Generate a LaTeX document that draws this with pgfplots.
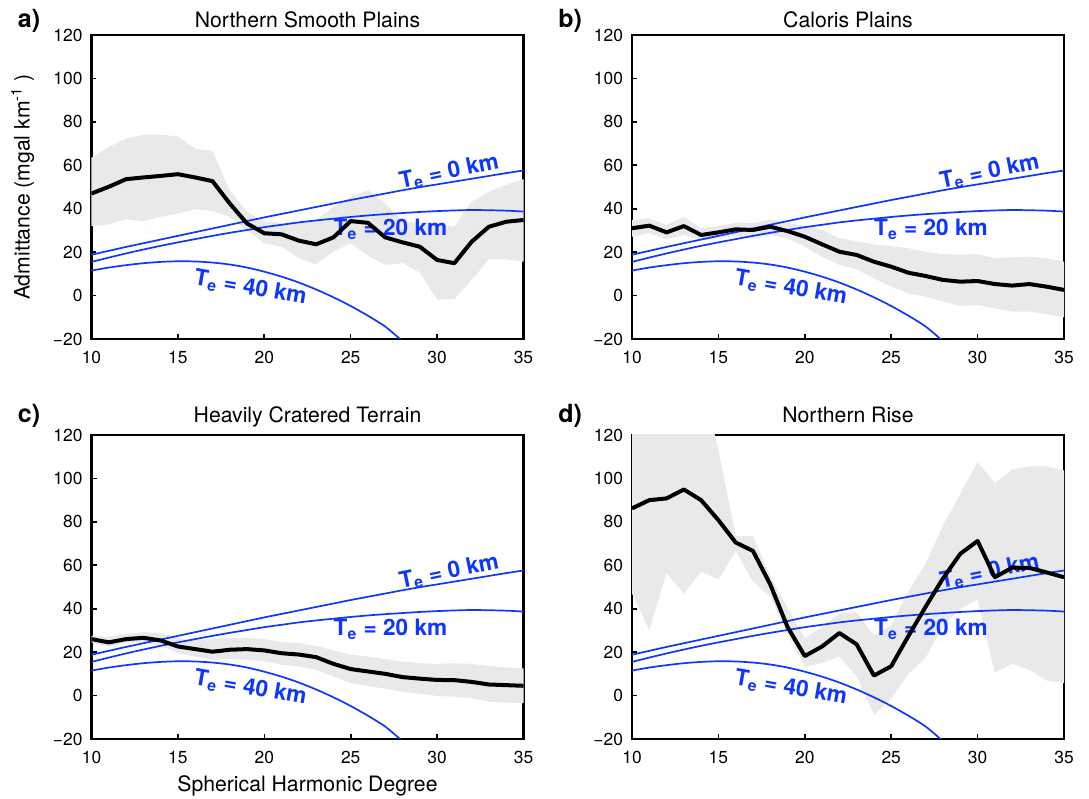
\documentclass[border=0pt]{standalone}
\usepackage{fontspec}
\setmainfont{TeX Gyre Heros}
\usepackage{pgfplots}
\pgfplotsset{compat=1.18}
\usepackage{pgfplotstable}
\definecolor{teblue}{RGB}{15,55,250}
\definecolor{bandgray}{RGB}{233,233,233}

% mean curves
\pgfplotstableread{
x m
10 47.0
11 50.1
12 53.6
13 54.4
14 55.1
15 55.9
16 54.4
17 52.7
18 42.4
19 33.2
20 28.7
21 28.2
22 25.3
23 23.6
24 26.8
25 34.3
26 33.5
27 26.8
28 24.5
29 22.5
30 16.4
31 14.9
32 24.8
33 31.7
34 34.0
35 34.8
}\tabA
\pgfplotstableread{
x m
10 31.0
11 32.2
12 29.1
13 32.0
14 27.9
15 29.1
16 30.5
17 30.2
18 31.7
19 29.7
20 27.1
21 23.6
22 20.2
23 18.7
24 15.6
25 13.3
26 10.5
27 9.0
28 7.2
29 6.4
30 6.7
31 5.3
32 4.6
33 5.3
34 4.1
35 2.6
}\tabB
\pgfplotstableread{
x m
10 26.0
11 24.5
12 26.0
13 26.6
14 25.4
15 22.6
16 21.4
17 20.2
18 21.1
19 21.4
20 20.8
21 19.5
22 18.9
23 17.7
24 14.6
25 12.2
26 11.1
27 10.0
28 8.5
29 7.8
30 7.2
31 7.1
32 6.3
33 5.1
34 4.8
35 4.5
}\tabC
\pgfplotstableread{
x m
10 86.2
11 90.0
12 90.8
13 94.9
14 90.0
15 80.8
16 70.5
17 66.6
18 51.2
19 31.6
20 18.2
21 22.6
22 28.8
23 23.6
24 9.2
25 13.5
26 27.5
27 41.0
28 54.0
29 65.3
30 71.2
31 54.5
32 58.9
33 58.8
34 56.7
35 54.5
}\tabD

% uncertainty bands: upper edge 10->35, then lower edge 35->10
\pgfplotstableread{
x y
10 63.5
11 68.4
12 72.3
13 74.1
14 74.1
15 73.3
16 67.7
17 66.6
18 48.5
19 38.6
20 34.0
21 33.6
22 33.6
23 34.8
24 40.9
25 45.5
26 48.5
27 42.4
28 34.0
29 33.5
30 32.9
31 31.7
32 43.2
33 47.8
34 51.1
35 53.6
35 15.6
34 16.7
33 16.7
32 7.2
31 -1.6
30 -1.9
29 10.6
28 14.9
27 14.1
26 18.4
25 24.1
24 20.2
23 14.4
22 17.2
21 22.5
20 24.1
19 30.2
18 36.3
17 38.9
16 39.8
15 37.8
14 36.3
13 34.3
12 35.2
11 32.8
10 32.0
}\bandA
\pgfplotstableread{
x y
10 34.8
11 35.6
12 32.5
13 36.3
14 31.0
15 32.0
16 33.6
17 33.3
18 35.1
19 33.6
20 32.0
21 30.2
22 26.4
23 25.1
24 23.6
25 22.8
26 21.8
27 20.2
28 19.1
29 18.7
30 19.1
31 17.2
32 17.6
33 17.9
34 17.2
35 15.6
35 -10.0
34 -8.5
33 -7.4
32 -7.4
31 -5.9
30 -4.3
29 -4.8
28 -2.8
27 -0.5
26 1.0
25 4.1
24 7.9
23 12.1
22 14.1
21 17.9
20 22.5
19 26.4
18 27.9
17 26.4
16 27.4
15 26.4
14 25.3
13 27.9
12 25.9
11 28.7
10 27.1
}\bandB
\pgfplotstableread{
x y
10 27.5
11 26.9
12 28.5
13 29.2
14 28.8
15 26.5
16 25.4
17 26.2
18 26.5
19 26.5
20 26.0
21 24.6
22 24.2
23 22.9
24 20.8
25 18.8
26 18.0
27 16.8
28 15.7
29 14.9
30 14.6
31 14.9
32 14.6
33 13.7
34 12.9
35 12.5
35 -3.5
34 -3.2
33 -2.8
32 -1.2
31 -0.5
30 -0.2
29 0.8
28 1.8
27 3.1
26 4.5
25 5.7
24 8.8
23 11.8
22 13.4
21 14.2
20 15.7
19 16.5
18 16.8
17 16.5
16 18.0
15 19.5
14 22.9
13 24.5
12 24.2
11 22.6
10 24.5
}\bandC
\pgfplotstableread{
x y
10 148
11 148
12 148
13 148
14 148
15 113
16 73.6
17 73.6
18 55.0
19 40.3
20 26.5
21 31.5
22 37.7
23 38.5
24 27.5
25 32.5
26 48.0
27 61.0
28 78.5
29 93.0
30 107.5
31 98.0
32 104.0
33 105.5
34 105.5
35 103.7
35 5.7
34 6.9
33 11.8
32 14.6
31 10.5
30 44.0
29 40.0
28 32.0
27 17.5
26 10.0
25 -1.5
24 -9.0
23 8.8
22 18.0
21 14.9
20 13.3
19 28.5
18 45.5
17 52.5
16 66.5
15 53.5
14 57.0
13 47.0
12 56.3
11 30.0
10 47.0
}\bandD

% model admittance curves
\pgfplotstableread{
x t0 t20
10 18.8 15.5
11 20.6 17.5
12 22.4 19.4
13 24.1 21.2
14 25.8 22.9
15 27.5 24.5
16 29.2 26.0
17 30.9 27.5
18 32.6 28.9
19 34.3 30.2
20 36.0 31.5
21 37.6 32.6
22 39.2 33.7
23 40.8 34.6
24 42.4 35.4
25 44.0 36.2
26 45.5 36.9
27 47.0 37.5
28 48.5 38.0
29 49.9 38.5
30 51.2 38.9
31 52.5 39.2
32 53.8 39.4
33 55.1 39.3
34 56.4 39.1
35 57.6 38.7
}\tabT
\pgfplotstableread{
x t40
10 11.5
11 12.9
12 14.0
13 14.9
14 15.5
15 15.8
16 15.7
17 15.2
18 14.3
19 12.9
20 11.0
21 8.7
22 6.0
23 2.8
24 -0.8
25 -4.8
26 -9.3
27 -14.3
28 -21.0
}\tabTf

\pgfplotsset{
  panel/.style={
    scale only axis, width=216pt, height=152pt,
    xmin=10, xmax=35, ymin=-20, ymax=120,
    xtick={10,15,20,25,30,35},
    xticklabels={10,15,20,25,30,35},
    ytick={-20,0,20,40,60,80,100,120},
    yticklabels={−20,0,20,40,60,80,100,120},
    tick pos=left, tick align=inside,
    major tick length=2.5pt,
    every tick/.style={black, line width=0.8pt},
    axis line style={line width=1.15pt},
    ticklabel style={font=\fontsize{8.7}{10}\selectfont},
    xticklabel style={yshift=-2.4pt},
    yticklabel style={xshift=-1pt},
    title style={font=\fontsize{10.6}{12}\selectfont, anchor=base, at={(0.5,1)}},
    label style={font=\fontsize{10.6}{12}\selectfont},
    anchor=south west,
  },
  row1/.style={title style={yshift=-2.2pt}},
  row2/.style={title style={yshift=0.2pt}},
  letter/.style 2 args={extra description/.code={
    \node[anchor=base west, inner sep=0pt, xshift=-37pt, yshift=#2, font={\fontsize{12.5}{14}\selectfont\bfseries}] at (axis description cs:0,1) {#1};}},
}

\newcommand{\theory}{%
  \addplot[teblue, line width=0.85pt, smooth] table[x=x,y=t0]{\tabT};
  \addplot[teblue, line width=0.85pt, smooth] table[x=x,y=t20]{\tabT};
  \addplot[teblue, line width=0.85pt, smooth] table[x=x,y=t40]{\tabTf};
  \node[teblue, font={\fontsize{11.3}{13}\selectfont\bfseries}, rotate=11.5] at (axis cs:30.7,57) {T\textsubscript{e} = 0 km};
  \node[teblue, font={\fontsize{11.3}{13}\selectfont\bfseries}] at (axis cs:27.3,30.5) {T\textsubscript{e} = 20 km};
  \node[teblue, font={\fontsize{11.3}{13}\selectfont\bfseries}, rotate=-10] at (axis cs:19.2,3.4) {T\textsubscript{e} = 40 km};
}

\begin{document}
\begin{tikzpicture}
\useasboundingbox (0,0) rectangle (544.5pt,399.5pt);

% a)
\begin{axis}[panel, row1, at={(45.75pt,230pt)}, title={Northern Smooth Plains},
  letter={a)}{3.85pt},
  ylabel={Admittance (mgal km\textsuperscript{-1} )},
  ylabel style={at={(axis description cs:-0.1435,0.5)}, anchor=base}]
  \addplot[fill=bandgray, draw=none] table[x=x,y=y]{\bandA} -- cycle;
  \theory
  \addplot[black, line width=2pt, line join=round] table[x=x,y=m]{\tabA};
\end{axis}

% b)
\begin{axis}[panel, row1, at={(316pt,230pt)}, title={Caloris Plains},
  letter={b)}{3.85pt}]
  \addplot[fill=bandgray, draw=none] table[x=x,y=y]{\bandB} -- cycle;
  \theory
  \addplot[black, line width=2pt, line join=round] table[x=x,y=m]{\tabB};
\end{axis}

% c)
\begin{axis}[panel, row2, at={(45.75pt,30pt)}, title={Heavily Cratered Terrain},
  letter={c)}{6pt},
  xlabel={Spherical Harmonic Degree},
  xlabel style={at={(axis description cs:0.5,-0.1737)}, anchor=base}]
  \addplot[fill=bandgray, draw=none] table[x=x,y=y]{\bandC} -- cycle;
  \theory
  \addplot[black, line width=2pt, line join=round] table[x=x,y=m]{\tabC};
\end{axis}

% d)
\begin{axis}[panel, row2, at={(316pt,30pt)}, title={Northern Rise},
  letter={d)}{6pt}]
  \addplot[fill=bandgray, draw=none] table[x=x,y=y]{\bandD} -- cycle;
  \theory
  \addplot[black, line width=2pt, line join=round] table[x=x,y=m]{\tabD};
\end{axis}
\end{tikzpicture}
\end{document}
